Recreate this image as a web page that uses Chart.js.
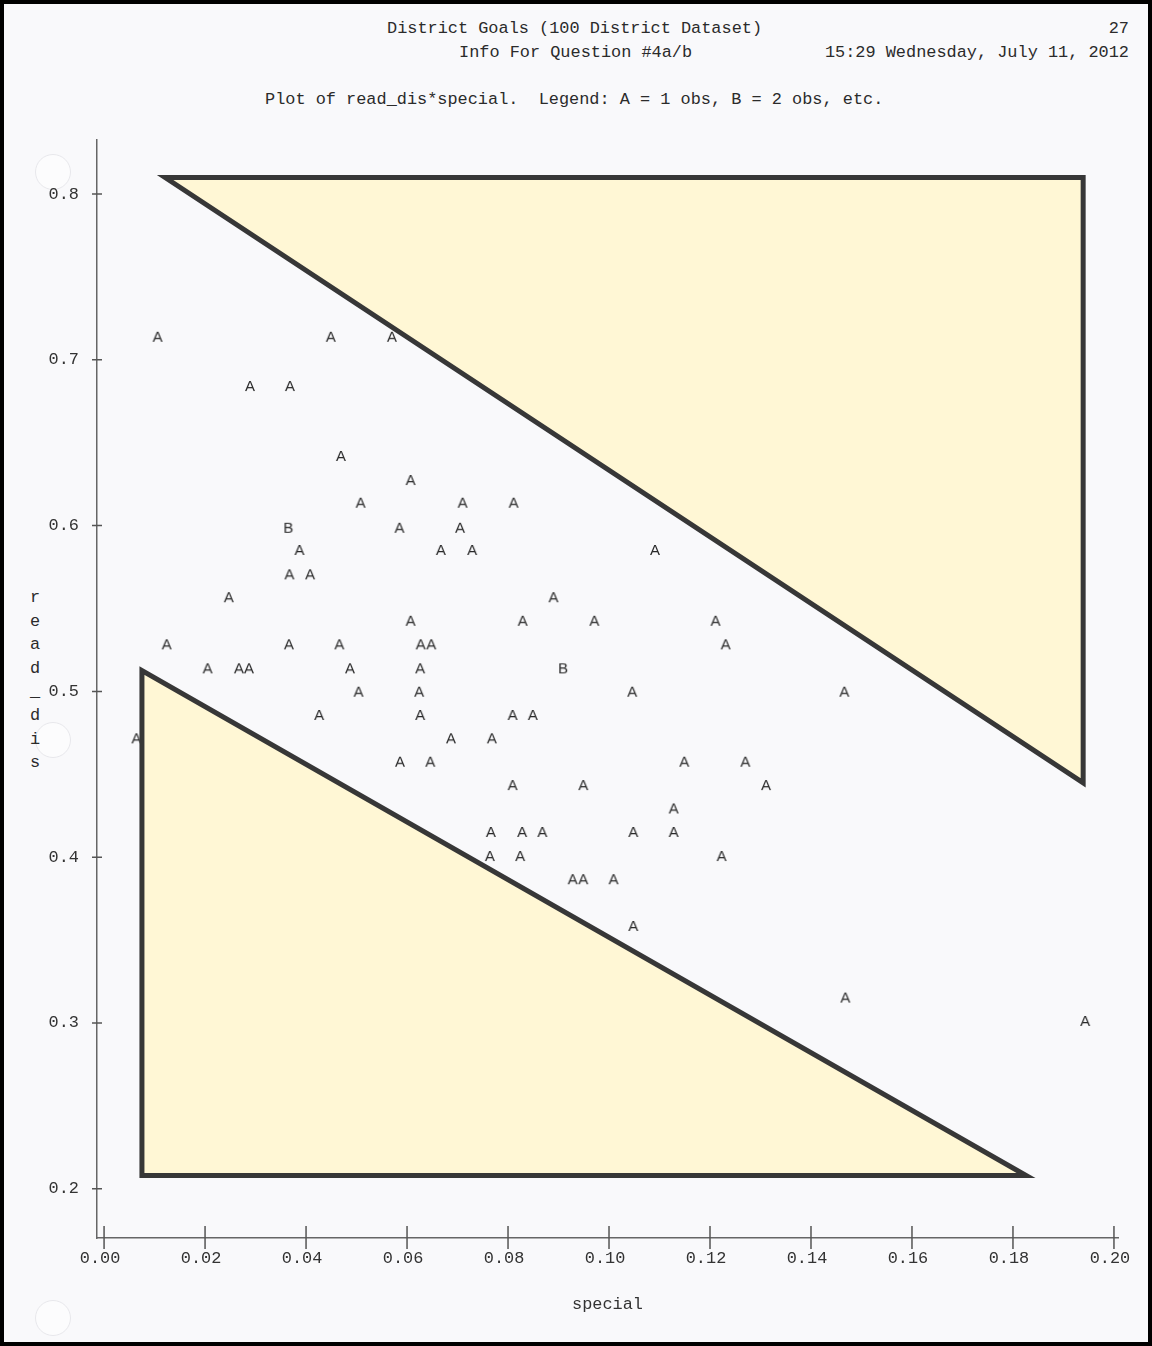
<!DOCTYPE html>
<html>
<head>
<meta charset="utf-8">
<title>Plot of read_dis*special</title>
<script src="https://cdn.jsdelivr.net/npm/chart.js@4.4.1/dist/chart.umd.min.js"></script>
<style>
  html, body { margin: 0; padding: 0; background: #fff; }
  #sheet {
    position: relative; width: 1152px; height: 1346px; overflow: hidden;
    background: #f9f9fb; color: #2b2b2b;
    font-family: "Liberation Mono", "DejaVu Sans Mono", monospace;
  }
  #sheet canvas { position: absolute; left: 0; top: 0; }
  .line { position: absolute; font-size: 16.9px; line-height: 20px; white-space: pre; }
  .ylab { position: absolute; left: 25px; top: 586px; width: 20px; text-align: center;
          font-size: 16.9px; line-height: 23.6px; }
  .punch { position: absolute; width: 34px; height: 34px; border-radius: 50%;
           background: #fcfcfd; border: 1px solid #e8e8ec; }
  #frame { position: absolute; left: 0; top: 0; right: 0; bottom: 0;
           border: 4px solid #000; pointer-events: none; }
</style>
</head>
<body>
<div id="sheet">
  <div class="punch" style="left:35px; top:154px"></div>
  <div class="punch" style="left:35px; top:722px"></div>
  <div class="punch" style="left:35px; top:1300px"></div>

  <div class="line" style="left:387px; top:19px">District Goals (100 District Dataset)</div>
  <div class="line" style="right:23px; top:19px">27</div>
  <div class="line" style="left:459px; top:43px">Info For Question #4a/b</div>
  <div class="line" style="right:23px; top:43px">15:29 Wednesday, July 11, 2012</div>
  <div class="line" style="left:265px; top:90px">Plot of read_dis*special.  Legend: A = 1 obs, B = 2 obs, etc.</div>

  <div class="ylab">r<br>e<br>a<br>d<br>_<br>d<br>i<br>s</div>

  <canvas id="plot" width="1152" height="1346"></canvas>
  <div id="frame"></div>
</div>

<script>
// A = 1 obs (special, read_dis), listed row by row from the top
const aSpecial = [
  0.0106, 0.0449, 0.0570,
  0.0289, 0.0368,
  0.0469,
  0.0607,
  0.0508, 0.0710, 0.0811,
  0.0585, 0.0705,
  0.0387, 0.0667, 0.0729, 0.1091,
  0.0367, 0.0408,
  0.0247, 0.0890,
  0.0607, 0.0829, 0.0971, 0.1211,
  0.0124, 0.0366, 0.0466, 0.0627, 0.0648, 0.1231,
  0.0205, 0.0267, 0.0287, 0.0487, 0.0626,
  0.0504, 0.0624, 0.1046, 0.1466,
  0.0426, 0.0626, 0.0809, 0.0849,
  0.0064, 0.0687, 0.0768,
  0.0586, 0.0646, 0.1149, 0.1270,
  0.0809, 0.0949, 0.1311,
  0.1128,
  0.0766, 0.0828, 0.0868, 0.1048, 0.1128,
  0.0764, 0.0824, 0.1223,
  0.0928, 0.0949, 0.1009,
  0.1048,
  0.1468,
  0.1943
];
const aReadDis = [
  0.7139, 0.7139, 0.7139,
  0.6842, 0.6842,
  0.6420,
  0.6275,
  0.6138, 0.6138, 0.6138,
  0.5987, 0.5987,
  0.5853, 0.5853, 0.5853, 0.5853,
  0.5706, 0.5706,
  0.5568, 0.5568,
  0.5426, 0.5426, 0.5426, 0.5426,
  0.5284, 0.5284, 0.5284, 0.5284, 0.5284, 0.5284,
  0.5139, 0.5139, 0.5139, 0.5139, 0.5139,
  0.4998, 0.4998, 0.4998, 0.4998,
  0.4858, 0.4858, 0.4858, 0.4858,
  0.4717, 0.4717, 0.4717,
  0.4576, 0.4576, 0.4576, 0.4576,
  0.4435, 0.4435, 0.4435,
  0.4294,
  0.4152, 0.4152, 0.4152, 0.4152, 0.4152,
  0.4007, 0.4007, 0.4007,
  0.3867, 0.3867, 0.3867,
  0.3585,
  0.3153,
  0.3012
];

// B = 2 obs
const bSpecial = [0.0365, 0.0909];
const bReadDis = [0.5987, 0.5139];

const xTicks = [0, 0.02, 0.04, 0.06, 0.08, 0.10, 0.12, 0.14, 0.16, 0.18, 0.20];
const yTicks = [0.2, 0.3, 0.4, 0.5, 0.6, 0.7, 0.8];

// shaded triangles laid over the plot (corners in data units)
const upperTriX = [0.0121, 0.1939, 0.1939];
const upperTriY = [0.8100, 0.8100, 0.4448];
const lowerTriX = [0.0075, 0.0075, 0.1826];
const lowerTriY = [0.5126, 0.2080, 0.2080];

function toPoints(xs, ys) {
  return xs.map((x, i) => ({ x: x, y: ys[i] }));
}

function closedShape(xs, ys) {
  const pts = toPoints(xs, ys);
  // run past the first corner again so the join there is mitred too
  return pts.concat([pts[0], pts[1]]);
}

function letterMark(ch) {
  const c = document.createElement('canvas');
  c.width = 16;
  c.height = 18;
  const g = c.getContext('2d');
  g.font = '15px "Liberation Sans", Arial, sans-serif';
  g.fillStyle = '#2a2a2a';
  g.textAlign = 'center';
  g.textBaseline = 'alphabetic';
  g.fillText(ch, 8, 14.4);
  return c;
}

const crossTicks = {
  id: 'crossTicks',
  afterDraw(chart) {
    const { ctx, chartArea, scales } = chart;
    ctx.save();
    ctx.strokeStyle = '#555';
    ctx.lineWidth = 1.5;
    ctx.beginPath();
    scales.x.ticks.forEach(t => {
      const px = scales.x.getPixelForValue(t.value);
      ctx.moveTo(px, chartArea.bottom - 12);
      ctx.lineTo(px, chartArea.bottom + 11);
    });
    scales.y.ticks.forEach(t => {
      const py = scales.y.getPixelForValue(t.value);
      ctx.moveTo(chartArea.left - 5, py);
      ctx.lineTo(chartArea.left + 5, py);
    });
    ctx.stroke();
    ctx.restore();
  }
};

const monoFont = { family: '"Liberation Mono", "DejaVu Sans Mono", monospace', size: 16.9 };

const triStyle = {
  showLine: true,
  fill: 'shape',
  backgroundColor: '#fff7d5',
  borderColor: '#373737',
  borderWidth: 5,
  borderJoinStyle: 'miter',
  tension: 0,
  pointRadius: 0,
  pointHoverRadius: 0,
  order: 0
};

new Chart(document.getElementById('plot'), {
  type: 'scatter',
  data: {
    datasets: [
      Object.assign({ label: 'upper', data: closedShape(upperTriX, upperTriY) }, triStyle),
      Object.assign({ label: 'lower', data: closedShape(lowerTriX, lowerTriY) }, triStyle),
      {
        label: 'A = 1 obs',
        data: toPoints(aSpecial, aReadDis),
        pointStyle: letterMark('A'),
        pointRadius: 6,
        order: 1
      },
      {
        label: 'B = 2 obs',
        data: toPoints(bSpecial, bReadDis),
        pointStyle: letterMark('B'),
        pointRadius: 6,
        order: 1
      }
    ]
  },
  options: {
    responsive: false,
    animation: false,
    devicePixelRatio: 1,
    layout: { padding: { left: 0, right: 34, top: 140, bottom: 0 } },
    plugins: {
      legend: { display: false },
      tooltip: { enabled: false }
    },
    scales: {
      x: {
        type: 'linear',
        min: -0.0014,
        max: 0.2008,
        afterFit: s => { s.height = 108; },
        afterBuildTicks: s => { s.ticks = xTicks.map(v => ({ value: v })); },
        grid: { display: true, drawOnChartArea: false, drawTicks: false },
        border: { display: true, color: '#666', width: 1.5 },
        ticks: {
          padding: 10,
          labelOffset: -4,
          maxRotation: 0,
          color: '#333',
          font: monoFont,
          callback: v => Number(v).toFixed(2)
        },
        title: {
          display: true,
          text: 'special',
          color: '#333',
          font: monoFont,
          padding: { top: 0, bottom: 31 }
        }
      },
      y: {
        type: 'linear',
        min: 0.1703,
        max: 0.8326,
        afterFit: s => { s.width = 97; },
        afterBuildTicks: s => { s.ticks = yTicks.map(v => ({ value: v })); },
        grid: { display: true, drawOnChartArea: false, drawTicks: false },
        border: { display: true, color: '#666', width: 1.5 },
        ticks: {
          padding: 18,
          color: '#333',
          font: monoFont,
          callback: v => Number(v).toFixed(1)
        }
      }
    }
  },
  plugins: [crossTicks]
});
</script>
</body>
</html>
